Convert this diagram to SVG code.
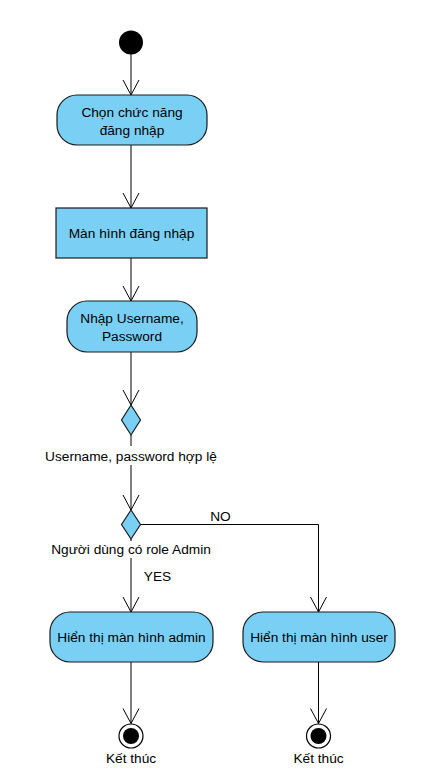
<svg xmlns="http://www.w3.org/2000/svg" width="428" height="784" viewBox="0 0 428 784">
<defs>
<marker id="arr" markerWidth="20" markerHeight="20" refX="16" refY="8.5" orient="auto" markerUnits="userSpaceOnUse">
<path d="M1,0.5 L16,8.5 L1,16.5" fill="none" stroke="#000" stroke-width="1"/>
</marker>
<style>
.act{fill:#7ACFF5;stroke:#1a1a1a;stroke-width:1.2}
.t{font-family:"Liberation Sans",Arial,sans-serif;font-size:13.7px;fill:#000;text-anchor:middle}
.c{fill:none;stroke:#000;stroke-width:1}
</style>
</defs>
<rect width="428" height="784" fill="#fff"/>
<g id="connectors">
<line class="c" x1="131" y1="54" x2="131" y2="95" marker-end="url(#arr)"/>
<line class="c" x1="131" y1="145" x2="131" y2="208" marker-end="url(#arr)"/>
<line class="c" x1="131" y1="258" x2="131" y2="301" marker-end="url(#arr)"/>
<line class="c" x1="131" y1="352" x2="131" y2="405" marker-end="url(#arr)"/>
<line class="c" x1="131" y1="435" x2="131" y2="510" marker-end="url(#arr)"/>
<line class="c" x1="131" y1="539" x2="131" y2="612" marker-end="url(#arr)"/>
<polyline class="c" points="140,524.5 318.5,524.5 318.5,612" marker-end="url(#arr)"/>
<line class="c" x1="131" y1="662" x2="131" y2="723.5" marker-end="url(#arr)"/>
<line class="c" x1="318.5" y1="662" x2="318.5" y2="723.5" marker-end="url(#arr)"/>
<rect x="42" y="446" width="178" height="19" fill="#fff"/>
<text class="t" x="131" y="460.5">Username, password hợp lệ</text>
<rect x="48" y="541" width="168" height="17" fill="#fff"/>
<text class="t" x="131" y="554">Người dùng có role Admin</text>
<text class="t" x="220.5" y="520.5">NO</text>
<text class="t" x="157.5" y="581">YES</text>
</g>
<g id="start"><circle cx="131" cy="42.5" r="12" fill="#000"/></g>
<g id="chon"><rect class="act" x="57" y="95" width="150" height="50" rx="20" ry="20"/>
<text class="t" x="132" y="116.5">Chọn chức năng</text><text class="t" x="132" y="134.5">đăng nhập</text></g>
<g id="manhinh"><rect class="act" x="56" y="208" width="151" height="50"/>
<text class="t" x="131.5" y="237.5">Màn hình đăng nhập</text></g>
<g id="nhap"><rect class="act" x="67" y="301" width="130" height="51" rx="20" ry="20"/>
<text class="t" x="132" y="322.5">Nhập Username,</text><text class="t" x="132" y="340.5">Password</text></g>
<g id="dec1"><polygon class="act" points="131,405 140.5,420 131,435 121.5,420"/></g>
<g id="dec2"><polygon class="act" points="131,510 140.5,524.5 131,539 121.5,524.5"/></g>
<g id="admin"><rect class="act" x="50" y="612" width="163" height="50" rx="20" ry="20"/>
<text class="t" x="131.5" y="641.5">Hiển thị màn hình admin</text></g>
<g id="user"><rect class="act" x="243" y="612" width="152" height="50" rx="20" ry="20"/>
<text class="t" x="319" y="641.5">Hiển thị màn hình user</text></g>
<g id="end1"><circle cx="131" cy="736" r="12" fill="#fff" stroke="#000" stroke-width="1.2"/><circle cx="131" cy="736" r="8" fill="#000"/>
<text class="t" x="131" y="763">Kết thúc</text></g>
<g id="end2"><circle cx="318.5" cy="736" r="12" fill="#fff" stroke="#000" stroke-width="1.2"/><circle cx="318.5" cy="736" r="8" fill="#000"/>
<text class="t" x="318.5" y="763">Kết thúc</text></g>
</svg>
